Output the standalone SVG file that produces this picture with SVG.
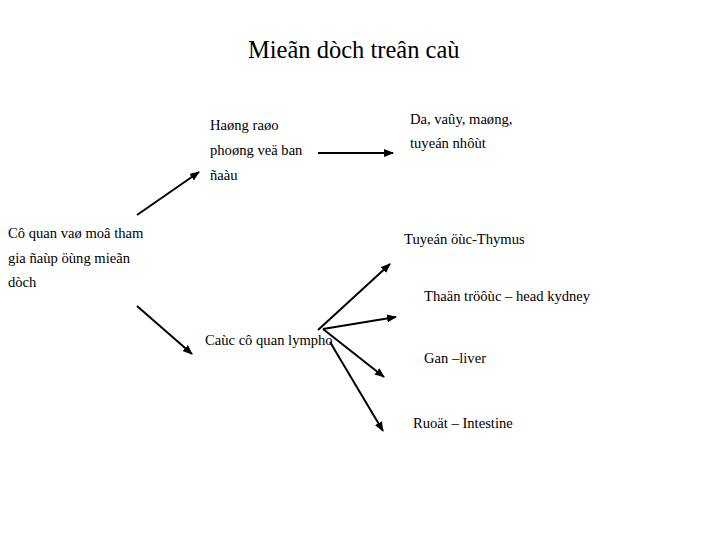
<svg xmlns="http://www.w3.org/2000/svg" width="720" height="540" viewBox="0 0 720 540">
<defs>
<marker id="ah" markerWidth="10" markerHeight="8" refX="9" refY="4" orient="auto" markerUnits="userSpaceOnUse">
<path d="M0,0 L10,4 L0,8 Z" fill="#000"/>
</marker>
<style>
text{font-family:"Liberation Serif","DejaVu Serif",serif;fill:#000}
.t{font-size:14.6px}
.h{font-size:24.5px}
.c line{stroke:#000;stroke-width:2;marker-end:url(#ah)}
</style>
</defs>
<rect width="720" height="540" fill="#fff"/>
<text class="h" x="248" y="58">Mieãn dòch treân caù</text>
<g id="n-root"><text class="t" x="8" y="238">Cô quan vaø moâ tham</text><text class="t" x="8" y="263">gia ñaùp öùng mieãn</text><text class="t" x="8" y="287">dòch</text></g>
<g id="n-barrier"><text class="t" x="210" y="130">Haøng raøo</text><text class="t" x="210" y="155">phoøng veä ban</text><text class="t" x="210" y="180">ñaàu</text></g>
<g id="n-skin"><text class="t" x="410" y="124">Da, vaûy, maøng,</text><text class="t" x="410" y="148">tuyeán nhôùt</text></g>
<g id="n-lymph"><text class="t" x="205" y="345">Caùc cô quan lympho</text></g>
<g id="n-thymus"><text class="t" x="404" y="244">Tuyeán öùc-Thymus</text></g>
<g id="n-kidney"><text class="t" x="424" y="301">Thaän tröôùc – head kydney</text></g>
<g id="n-liver"><text class="t" x="424" y="363">Gan –liver</text></g>
<g id="n-intestine"><text class="t" x="413" y="428">Ruoät – Intestine</text></g>
<g class="c" id="connectors">
<line x1="137" y1="215" x2="199" y2="172"/>
<line x1="318" y1="153" x2="393" y2="153"/>
<line x1="137" y1="306" x2="192" y2="354"/>
<line x1="318" y1="330" x2="390" y2="264"/>
<line x1="323" y1="329" x2="396" y2="317"/>
<line x1="323" y1="329" x2="384" y2="377"/>
<line x1="330" y1="342" x2="383" y2="431"/>
</g>
</svg>
